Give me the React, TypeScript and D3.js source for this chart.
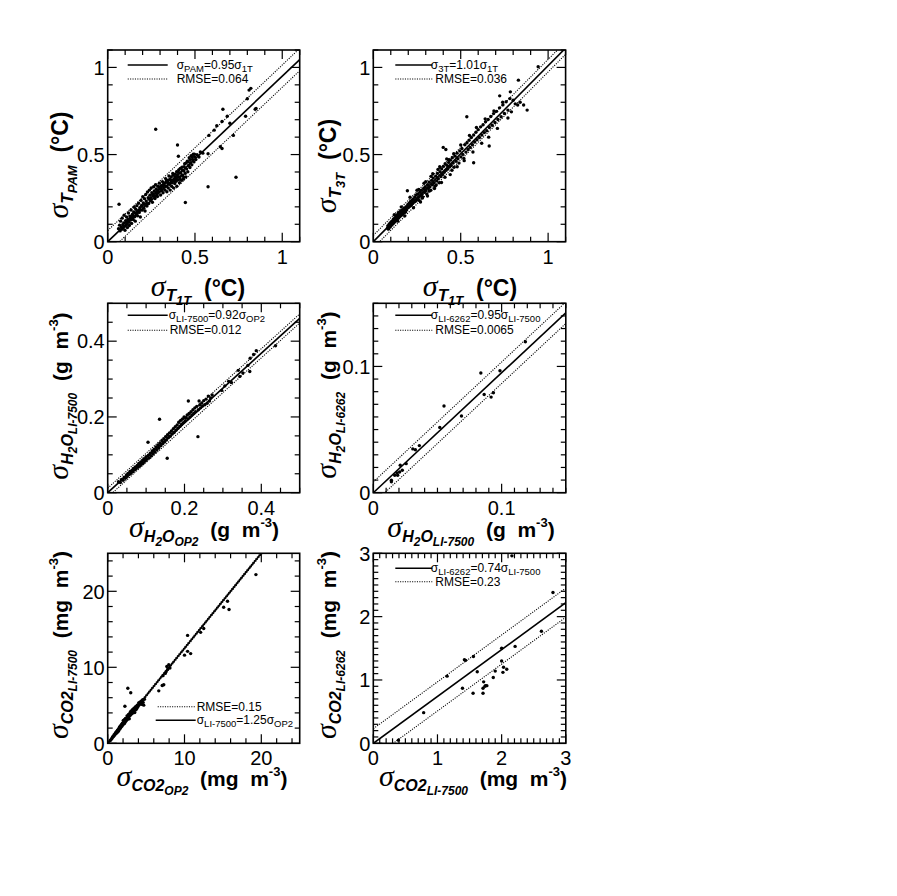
import React from 'react';
import * as d3 from 'd3';

// ---------------- DATA ----------------
const tempPamPoints: [number, number][] = [
  [0.062,0.075],[0.068,0.095],[0.071,0.062],[0.074,0.118],[0.078,0.083],[0.081,0.071],[0.083,0.135],[0.086,0.097],[0.089,0.079],
  [0.092,0.108],[0.094,0.152],[0.097,0.088],[0.099,0.066],[0.103,0.121],[0.105,0.094],[0.108,0.142],[0.111,0.102],[0.113,0.081],
  [0.116,0.128],[0.119,0.165],[0.122,0.111],[0.124,0.093],[0.127,0.147],[0.131,0.124],[0.134,0.182],[0.137,0.105],[0.139,0.139],
  [0.142,0.158],[0.146,0.127],[0.149,0.171],[0.152,0.198],[0.155,0.143],[0.158,0.118],[0.161,0.186],[0.164,0.161],[0.167,0.207],
  [0.171,0.149],[0.174,0.178],[0.177,0.221],[0.181,0.168],[0.184,0.195],[0.187,0.142],[0.191,0.237],[0.194,0.208],[0.197,0.181],
  [0.201,0.258],[0.204,0.223],[0.207,0.192],[0.211,0.247],[0.214,0.176],[0.218,0.271],[0.221,0.233],[0.225,0.205],[0.228,0.285],
  [0.232,0.252],[0.235,0.219],[0.239,0.296],[0.242,0.267],[0.246,0.238],[0.249,0.308],[0.253,0.281],[0.256,0.226],[0.26,0.262],
  [0.263,0.315],[0.267,0.291],[0.271,0.248],[0.274,0.327],[0.278,0.302],[0.281,0.273],[0.285,0.259],[0.288,0.318],[0.292,0.287],
  [0.296,0.336],[0.299,0.305],[0.303,0.268],[0.306,0.322],[0.31,0.294],[0.314,0.345],[0.317,0.281],[0.321,0.312],[0.325,0.336],
  [0.328,0.297],[0.332,0.362],[0.336,0.318],[0.339,0.287],[0.343,0.341],[0.347,0.308],[0.351,0.377],[0.354,0.329],[0.358,0.296],
  [0.362,0.352],[0.366,0.318],[0.369,0.338],[0.373,0.392],[0.377,0.309],[0.381,0.361],[0.384,0.334],[0.388,0.373],[0.392,0.347],
  [0.396,0.318],[0.399,0.385],[0.403,0.356],[0.407,0.412],[0.411,0.338],[0.414,0.371],[0.418,0.396],[0.422,0.352],[0.426,0.428],
  [0.429,0.381],[0.433,0.359],[0.437,0.405],[0.441,0.447],[0.444,0.392],[0.448,0.372],[0.452,0.418],[0.456,0.462],[0.459,0.401],
  [0.463,0.437],[0.467,0.482],[0.471,0.426],[0.475,0.453],[0.478,0.493],[0.482,0.441],[0.486,0.472],[0.49,0.502],[0.494,0.458],
  [0.498,0.487],[0.505,0.471],[0.512,0.499],[0.523,0.486],[0.531,0.515],[0.545,0.508],
  [0.105,0.112],[0.118,0.119],[0.128,0.136],[0.143,0.149],[0.157,0.165],[0.169,0.172],[0.183,0.184],[0.196,0.203],[0.209,0.214],
  [0.223,0.219],[0.236,0.245],[0.248,0.253],[0.262,0.274],[0.276,0.281],[0.289,0.297],[0.302,0.311],[0.312,0.321],[0.323,0.326],
  [0.334,0.341],[0.345,0.352],[0.356,0.358],[0.364,0.371],[0.375,0.381],[0.386,0.388],[0.395,0.402],[0.405,0.398],[0.416,0.421],
  [0.427,0.412],[0.438,0.431],[0.449,0.451],[0.461,0.458],[0.472,0.471],[0.484,0.486],[0.497,0.502],[0.338,0.352],[0.349,0.331],
  [0.361,0.339],[0.371,0.352],[0.382,0.347],[0.393,0.361],[0.404,0.372],[0.415,0.358],[0.425,0.381],[0.436,0.369],[0.319,0.328],
  [0.308,0.301],[0.297,0.312],[0.284,0.288],[0.271,0.262],[0.258,0.271],
  [0.065,0.215],[0.275,0.645],[0.40,0.555],[0.405,0.49],[0.445,0.225],[0.575,0.315],[0.735,0.37],[0.575,0.505],
  [0.58,0.61],[0.61,0.64],[0.625,0.665],[0.645,0.545],[0.655,0.535],[0.655,0.69],[0.66,0.76],[0.685,0.72],[0.70,0.68],
  [0.72,0.61],[0.79,0.72],[0.80,0.82],[0.81,0.87],[0.82,0.88],[0.845,0.76],[0.85,0.765],
];

const temp3TPoints: [number, number][] = [
  [0.081,0.078],[0.083,0.091],[0.086,0.072],[0.088,0.085],[0.09,0.099],[0.092,0.081],[0.094,0.094],[0.096,0.108],[0.098,0.087],
  [0.1,0.101],[0.102,0.093],[0.104,0.115],[0.106,0.098],[0.108,0.109],[0.11,0.121],[0.112,0.102],[0.114,0.113],[0.116,0.131],
  [0.118,0.109],[0.12,0.124],[0.122,0.115],[0.124,0.138],[0.126,0.119],[0.128,0.131],[0.13,0.147],[0.132,0.125],[0.134,0.138],
  [0.136,0.152],[0.138,0.131],[0.14,0.145],[0.143,0.163],[0.145,0.136],[0.148,0.152],[0.15,0.171],[0.153,0.145],[0.156,0.161],
  [0.158,0.178],[0.161,0.152],[0.164,0.168],[0.167,0.184],[0.17,0.159],[0.173,0.176],[0.176,0.193],[0.179,0.168],[0.182,0.186],
  [0.185,0.171],[0.188,0.201],[0.191,0.183],[0.195,0.292],[0.197,0.212],
  [0.201,0.196],[0.205,0.221],[0.209,0.203],[0.213,0.231],[0.217,0.209],[0.221,0.238],[0.225,0.219],[0.229,0.246],[0.233,0.227],
  [0.237,0.257],[0.241,0.232],[0.245,0.268],[0.249,0.241],[0.254,0.274],[0.258,0.253],[0.262,0.237],[0.266,0.284],[0.27,0.262],
  [0.275,0.295],[0.279,0.271],[0.283,0.256],[0.288,0.305],[0.292,0.283],[0.297,0.316],[0.301,0.294],[0.306,0.274],[0.31,0.327],
  [0.315,0.305],[0.32,0.341],[0.324,0.316],[0.329,0.295],[0.334,0.352],[0.338,0.327],[0.343,0.365],[0.348,0.338],[0.353,0.318],
  [0.357,0.376],[0.362,0.349],[0.367,0.392],[0.372,0.361],[0.377,0.338],[0.382,0.402],[0.386,0.374],[0.391,0.418],[0.396,0.386],
  [0.4,0.541],[0.401,0.432],[0.406,0.398],[0.411,0.447],[0.415,0.529],[0.416,0.409],[0.421,0.438],[0.426,0.417],[0.431,0.455],
  [0.436,0.428],[0.441,0.468],[0.446,0.437],[0.452,0.482],[0.457,0.451],[0.462,0.427],[0.468,0.491],[0.473,0.462],[0.479,0.508],
  [0.484,0.476],[0.49,0.451],[0.495,0.521],[0.501,0.487],[0.507,0.535],[0.512,0.501],[0.518,0.478],[0.524,0.556],[0.53,0.514],
  [0.535,0.717],[0.536,0.568],[0.542,0.529],[0.548,0.582],[0.554,0.541],[0.561,0.598],[0.567,0.556],[0.574,0.453],[0.574,0.612],
  [0.58,0.572],[0.587,0.628],[0.593,0.585],[0.6,0.643],[0.607,0.598],[0.614,0.659],[0.621,0.612],[0.628,0.671],[0.635,0.626],
  [0.642,0.688],[0.649,0.637],[0.663,0.549],[0.657,0.701],[0.664,0.655],[0.672,0.718],[0.68,0.668],[0.688,0.735],[0.696,0.684],
  [0.705,0.748],[0.713,0.701],[0.723,0.837],[0.722,0.768],[0.731,0.717],[0.741,0.785],[0.75,0.736],[0.76,0.803],[0.77,0.755],
  [0.784,0.86],[0.781,0.821],[0.79,0.745],[0.8,0.812],[0.812,0.791],[0.826,0.784],[0.83,0.927],[0.84,0.8],[0.86,0.784],
  [0.88,0.755],[0.943,1.004],
  [0.12,0.155],[0.14,0.118],[0.16,0.2],[0.18,0.148],[0.21,0.255],[0.23,0.195],[0.25,0.295],[0.27,0.228],[0.29,0.335],[0.31,0.262],
  [0.33,0.375],[0.35,0.305],[0.37,0.415],[0.39,0.34],[0.42,0.475],[0.44,0.385],[0.46,0.505],[0.48,0.43],[0.5,0.555],[0.52,0.465],
  [0.55,0.61],[0.57,0.515],[0.59,0.655],[0.62,0.565],[0.64,0.705],[0.66,0.6],[0.69,0.75],[0.71,0.65],[0.74,0.8],[0.77,0.71],
  [0.43,0.47],[0.38,0.43],[0.34,0.39],[0.3,0.345],[0.26,0.3],[0.45,0.41],[0.41,0.37],[0.36,0.325],[0.32,0.29],[0.28,0.25],
];

const h2oLi7500Points: [number, number][] = [
  [0.028,0.029],[0.033,0.027],[0.036,0.035],[0.04,0.033],[0.043,0.041],[0.046,0.038],[0.049,0.047],[0.051,0.043],[0.053,0.051],
  [0.056,0.048],[0.058,0.056],[0.06,0.051],[0.063,0.059],[0.065,0.055],[0.067,0.064],[0.07,0.06],[0.072,0.068],[0.074,0.063],
  [0.077,0.072],[0.079,0.067],[0.081,0.077],[0.084,0.071],[0.086,0.081],[0.088,0.075],[0.091,0.086],[0.093,0.079],[0.095,0.09],
  [0.098,0.084],[0.1,0.095],[0.102,0.088],[0.105,0.133],[0.106,0.099],[0.108,0.092],[0.111,0.104],[0.113,0.097],[0.116,0.11],
  [0.118,0.102],[0.121,0.115],[0.123,0.107],[0.126,0.121],[0.128,0.113],[0.131,0.126],[0.133,0.118],[0.135,0.194],[0.136,0.131],
  [0.138,0.124],[0.141,0.137],[0.143,0.129],[0.146,0.142],[0.148,0.134],[0.151,0.148],[0.153,0.139],[0.155,0.091],[0.156,0.153],
  [0.158,0.145],[0.161,0.158],[0.163,0.149],[0.166,0.163],[0.168,0.155],[0.171,0.169],[0.173,0.159],[0.176,0.174],[0.178,0.165],
  [0.181,0.179],[0.183,0.17],[0.185,0.186],[0.188,0.175],[0.19,0.191],[0.192,0.18],[0.195,0.195],[0.197,0.185],[0.199,0.2],
  [0.202,0.19],[0.204,0.198],[0.207,0.205],[0.209,0.195],[0.21,0.242],[0.212,0.209],[0.214,0.2],[0.217,0.214],[0.219,0.205],
  [0.222,0.219],[0.224,0.209],[0.227,0.224],[0.229,0.214],[0.232,0.228],[0.235,0.148],[0.236,0.219],[0.238,0.242],[0.24,0.232],
  [0.242,0.224],[0.245,0.237],[0.247,0.229],[0.25,0.243],[0.253,0.232],[0.256,0.247],[0.259,0.236],[0.262,0.255],[0.265,0.242],
  [0.268,0.25],[0.272,0.258],[0.297,0.27],[0.305,0.282],[0.315,0.294],[0.322,0.291],[0.34,0.323],[0.344,0.307],[0.352,0.316],
  [0.365,0.336],[0.37,0.32],[0.371,0.355],[0.38,0.365],[0.387,0.375],[0.437,0.388],
];

const h2oLi6262Points: [number, number][] = [
  [0.0141,0.0086],[0.0141,0.0099],[0.0167,0.0138],[0.0185,0.0157],[0.019,0.0138],[0.0205,0.0164],[0.021,0.0217],
  [0.0226,0.0178],[0.0256,0.023],[0.0308,0.0347],[0.0328,0.034],[0.0359,0.0373],[0.0518,0.0517],[0.0551,0.0687],
  [0.0687,0.0608],[0.0838,0.0948],[0.0864,0.0778],[0.0918,0.0757],[0.0936,0.0791],[0.0987,0.0966],[0.1185,0.1196],
];

const co2Li7500Points: [number, number][] = [
  [0.3,0.35],[0.42,0.47],[0.55,0.63],[0.63,0.84],[0.71,0.86],[0.79,0.97],[0.84,1.12],[0.92,1.08],[0.98,1.27],[1.04,1.41],
  [1.08,1.29],[1.13,1.52],[1.19,1.38],[1.24,1.62],[1.29,1.74],[1.33,1.51],[1.38,1.83],[1.43,1.65],[1.49,1.97],[1.53,2.12],
  [1.58,1.88],[1.63,2.24],[1.68,2.03],[1.72,2.35],[1.77,2.18],[1.83,2.52],[1.87,2.29],[1.92,2.64],[1.97,2.43],[2.01,2.71],
  [2.04,3.02],[2.09,2.55],[2.13,2.84],[2.18,2.62],[2.21,3.13],[2.24,4.87],[2.27,2.79],[2.32,3.28],[2.37,2.93],[2.41,3.19],
  [2.46,3.05],[2.52,3.61],[2.56,3.14],[2.61,3.42],[2.62,7.25],[2.67,3.29],[2.71,3.81],[2.76,3.52],[2.81,3.22],[2.86,3.63],
  [2.91,4.03],[2.96,3.71],[3.0,6.65],[3.02,4.21],[3.07,3.84],[3.12,4.12],[3.17,3.93],[3.22,4.41],[3.27,4.02],[3.31,4.34],
  [3.37,4.18],[3.42,4.62],[3.47,4.31],[3.52,4.04],[3.58,4.53],[3.63,4.82],[3.68,4.42],[3.73,4.71],[3.79,4.58],[3.84,5.02],
  [3.91,4.79],[3.98,4.93],[4.03,5.31],[4.11,5.08],[4.19,5.42],[4.27,5.19],[4.36,5.53],[4.45,5.12],[4.52,5.69],[4.61,5.38],
  [4.69,5.02],[4.78,5.79],[6.65,6.9],[7.1,7.6],[7.3,7.7],[7.2,8.9],[7.5,9.2],[7.6,9.4],[7.7,10.1],[7.95,10.35],[7.8,9.7],
  [8.1,9.9],[10.0,11.6],[10.4,12.1],[10.4,14.2],[10.8,11.8],[12.1,14.6],[12.5,15.1],[15.1,17.9],[15.6,18.7],[15.8,17.6],
  [19.3,22.2],
];

const co2Li6262Points: [number, number][] = [
  [0.39,0.05],[0.785,0.484],[1.15,1.06],[1.39,0.87],[1.42,1.32],[1.44,1.31],[1.56,1.37],[1.555,0.79],[1.62,1.13],
  [1.71,0.87],[1.72,0.97],[1.71,0.79],[1.75,0.91],[1.77,0.91],[1.74,0.90],[1.87,1.04],[1.9,1.14],[2.0,1.5],[2.0,1.3],
  [2.02,1.12],[2.03,1.2],[2.08,1.17],[2.21,1.53],[2.16,2.96],[2.62,1.77],[2.8,2.38],
];

const fitSlopes = [0.95, 1.01, 0.92, 0.95, 1.25, 0.74];
const rmseValues = [0.064, 0.036, 0.012, 0.0065, 0.15, 0.23];
const bandOffsets = [0.064, 0.036, 0.012, 0.0085, 0.15, 0.23];
const axisMax = [1.1, 1.1, 0.5, 0.15, 25, 3];
const majorTickValues = [[0, 0.5, 1], [0, 0.5, 1], [0, 0.2, 0.4], [0, 0.1], [0, 10, 20], [0, 1, 2, 3]];
const tickLabels = [['0', '0.5', '1'], ['0', '0.5', '1'], ['0', '0.2', '0.4'], ['0', '0.1'], ['0', '10', '20'], ['0', '1', '2', '3']];
const minorSteps = [0.1, 0.1, 0.05, 0.01, 2, 0.1];
const yNames = ['PAM', '3T', 'LI-7500', 'LI-6262', 'LI-7500', 'LI-6262'];
const xNames = ['1T', '1T', 'OP2', 'LI-7500', 'OP2', 'LI-7500'];

// ---------------- STYLE / LAYOUT ----------------
const SANS = '"Liberation Sans", Arial, Helvetica, sans-serif';
const SERIF = '"Liberation Serif", "Times New Roman", serif';

type Seg = { t: string; size: number; off: number; fam?: string; it?: boolean; b?: boolean };

const sig = (): Seg => ({ t: 'σ', size: 30, off: 0, fam: SERIF, it: true });
const sub = (t: string, s = 16): Seg => ({ t, size: s, off: 5, it: true, b: true });
const sub2 = (t: string, s = 12): Seg => ({ t, size: s, off: 9, it: true, b: true });
const unit = (t: string, s = 21): Seg => ({ t, size: s, off: 0, b: true });
const sup = (t: string): Seg => ({ t, size: 13, off: -10, b: true });

const tempTitle = (name: string): Seg[] => [sig(), sub('T', 17), sub2(name, 13), unit('  (°C)', 23)];
const h2oTitle = (name: string): Seg[] => [sig(), sub('H'), sub2('2'), sub('O'), sub2(name), unit('  (g  m'), sup('-3'), unit(')')];
const co2Title = (name: string): Seg[] => [sig(), sub('CO2'), sub2(name), unit('  (mg  m'), sup('-3'), unit(')')];

const lg = (t: string): Seg => ({ t, size: 12, off: 0 });
const lgs = (t: string): Seg => ({ t, size: 9.5, off: 3 });

function Rich({ x, y, segs, rot }: { x: number; y: number; segs: Seg[]; rot?: boolean }) {
  let prev = 0;
  return (
    <text x={x} y={y} textAnchor="middle" transform={rot ? `rotate(-90 ${x} ${y})` : undefined}
      style={{ whiteSpace: 'pre' }} fill="#000">
      {segs.map((s, i) => {
        const dy = s.off - prev;
        prev = s.off;
        return (
          <tspan key={i} dy={dy} fontFamily={s.fam || SANS} fontSize={s.size}
            fontStyle={s.it ? 'italic' : 'normal'} fontWeight={s.b ? 'bold' : 'normal'}>{s.t}</tspan>
        );
      })}
    </text>
  );
}

function LegendText({ x, y, segs }: { x: number; y: number; segs: Seg[] }) {
  let prev = 0;
  return (
    <text x={x} y={y} style={{ whiteSpace: 'pre' }} fontFamily={SANS} fill="#000">
      {segs.map((s, i) => {
        const dy = s.off - prev;
        prev = s.off;
        return <tspan key={i} dy={dy} fontSize={s.size}>{s.t}</tspan>;
      })}
    </text>
  );
}

const boxes = [
  { left: 107.7, top: 50, w: 192, h: 191.7 },
  { left: 373.3, top: 50, w: 192.3, h: 191.7 },
  { left: 107.7, top: 303.3, w: 192, h: 189.4 },
  { left: 373.3, top: 303.3, w: 192.5, h: 189.4 },
  { left: 107.7, top: 553.3, w: 192, h: 190 },
  { left: 373.3, top: 553.3, w: 192.5, h: 190 },
];

const xTitlePos = [[198, 296], [470, 296], [204, 537], [471, 537], [202, 786], [473, 786]];
const yTitlePos = [[68, 165], [336, 166], [68, 396], [336, 395], [68, 645], [336, 645]];

const allPoints = [tempPamPoints, temp3TPoints, h2oLi7500Points, h2oLi6262Points, co2Li7500Points, co2Li6262Points];

function titlesFor(i: number): [Seg[], Seg[]] {
  if (i < 2) return [tempTitle(xNames[i]), tempTitle(yNames[i])];
  if (i < 4) return [h2oTitle(xNames[i]), h2oTitle(yNames[i])];
  return [co2Title(xNames[i]), co2Title(yNames[i])];
}

function legendFor(i: number) {
  const fitSegs: Seg[] = [lg('σ'), lgs(yNames[i]), lg(`=${fitSlopes[i].toFixed(2)}σ`), lgs(xNames[i])];
  const rmseSegs: Seg[] = [lg(`RMSE=${rmseValues[i]}`)];
  const leftCol = i % 2 === 0;
  if (i === 4) {
    return [
      { dash: true, x1: 50, x2: 88, y: 153.5, tx: 89, segs: rmseSegs },
      { dash: false, x1: 48, x2: 88, y: 167, tx: 89, segs: fitSegs },
    ];
  }
  const y0 = i < 2 ? 15 : i < 4 ? 12 : 15;
  const y1 = i < 2 ? 29 : i < 4 ? 27 : 28.5;
  if (leftCol) {
    return [
      { dash: false, x1: 20, x2: 60, y: y0, tx: i === 0 ? 69 : 61, segs: fitSegs },
      { dash: true, x1: 20, x2: 60, y: y1, tx: i === 0 ? 69 : 62, segs: rmseSegs },
    ];
  }
  return [
    { dash: false, x1: 22, x2: 59, y: y0, tx: 57.5, segs: fitSegs },
    { dash: true, x1: 22, x2: 59, y: y1, tx: 62, segs: rmseSegs },
  ];
}

function Panel({ i }: { i: number }) {
  const b = boxes[i];
  const max = axisMax[i];
  const x = d3.scaleLinear().domain([0, max]).range([b.left, b.left + b.w]);
  const y = d3.scaleLinear().domain([0, max]).range([b.top + b.h, b.top]);
  const minor = d3.range(0, max + 1e-9, minorSteps[i]);
  const majors = majorTickValues[i];
  const majLen = 9, minLen = 5;
  const line = d3.line<number>().x((v) => x(v)).y((v) => y(fitSlopes[i] * v));
  const lineUp = d3.line<number>().x((v) => x(v)).y((v) => y(fitSlopes[i] * v + bandOffsets[i]));
  const lineDn = d3.line<number>().x((v) => x(v)).y((v) => y(fitSlopes[i] * v - bandOffsets[i]));
  const ends = [0, max];
  const clipId = `clip${i}`;
  const [xt, yt] = titlesFor(i);
  const legend = legendFor(i);
  const bottom = b.top + b.h;
  const right = b.left + b.w;
  const isMajor = (v: number) => majors.some((m) => Math.abs(m - v) < 1e-9);
  const dotDash = '1.1 1.3';
  return (
    <g>
      <defs>
        <clipPath id={clipId}>
          <rect x={b.left} y={b.top} width={b.w} height={b.h} />
        </clipPath>
      </defs>
      <g clipPath={`url(#${clipId})`}>
        <path d={lineUp(ends) || ''} fill="none" stroke="#000" strokeWidth={1.1} strokeDasharray={dotDash} />
        <path d={lineDn(ends) || ''} fill="none" stroke="#000" strokeWidth={1.1} strokeDasharray={dotDash} />
        <path d={line(ends) || ''} fill="none" stroke="#000" strokeWidth={1.6} />
      </g>
      {allPoints[i].map((p, k) => (
        <circle key={k} cx={x(p[0])} cy={y(p[1])} r={1.7} fill="#000" />
      ))}
      {minor.map((v, k) => {
        const L = isMajor(v) ? majLen : minLen;
        return (
          <g key={k} stroke="#000" strokeWidth={1.2}>
            <line x1={x(v)} x2={x(v)} y1={bottom} y2={bottom - L} />
            <line x1={x(v)} x2={x(v)} y1={b.top} y2={b.top + L} />
            <line x1={b.left} x2={b.left + L} y1={y(v)} y2={y(v)} />
            <line x1={right} x2={right - L} y1={y(v)} y2={y(v)} />
          </g>
        );
      })}
      <rect x={b.left} y={b.top} width={b.w} height={b.h} fill="none" stroke="#000" strokeWidth={1.6} />
      {majors.map((v, k) => (
        <text key={'x' + k} x={x(v)} y={bottom + 22} textAnchor="middle" fontFamily={SANS} fontSize={20}>{tickLabels[i][k]}</text>
      ))}
      {majors.map((v, k) => (
        <text key={'y' + k} x={b.left - 3} y={y(v)} dy="0.36em" textAnchor="end" fontFamily={SANS} fontSize={20}>{tickLabels[i][k]}</text>
      ))}
      {legend.map((e, k) => (
        <g key={'l' + k}>
          <line x1={b.left + e.x1} x2={b.left + e.x2} y1={b.top + e.y} y2={b.top + e.y} stroke="#000"
            strokeWidth={e.dash ? 1.1 : 1.4} strokeDasharray={e.dash ? dotDash : undefined} />
          <LegendText x={b.left + e.tx} y={b.top + e.y + 4} segs={e.segs} />
        </g>
      ))}
      <Rich x={xTitlePos[i][0]} y={xTitlePos[i][1]} segs={xt} />
      <Rich x={yTitlePos[i][0]} y={yTitlePos[i][1]} segs={yt} rot />
    </g>
  );
}

export default function App() {
  return (
    <svg width={897} height={896} viewBox="0 0 897 896"
      style={{ position: 'absolute', left: 0, top: 0, display: 'block', background: '#fff' }}>
      <rect x={0} y={0} width={897} height={896} fill="#fff" />
      {[0, 1, 2, 3, 4, 5].map((i) => <Panel key={i} i={i} />)}
    </svg>
  );
}
